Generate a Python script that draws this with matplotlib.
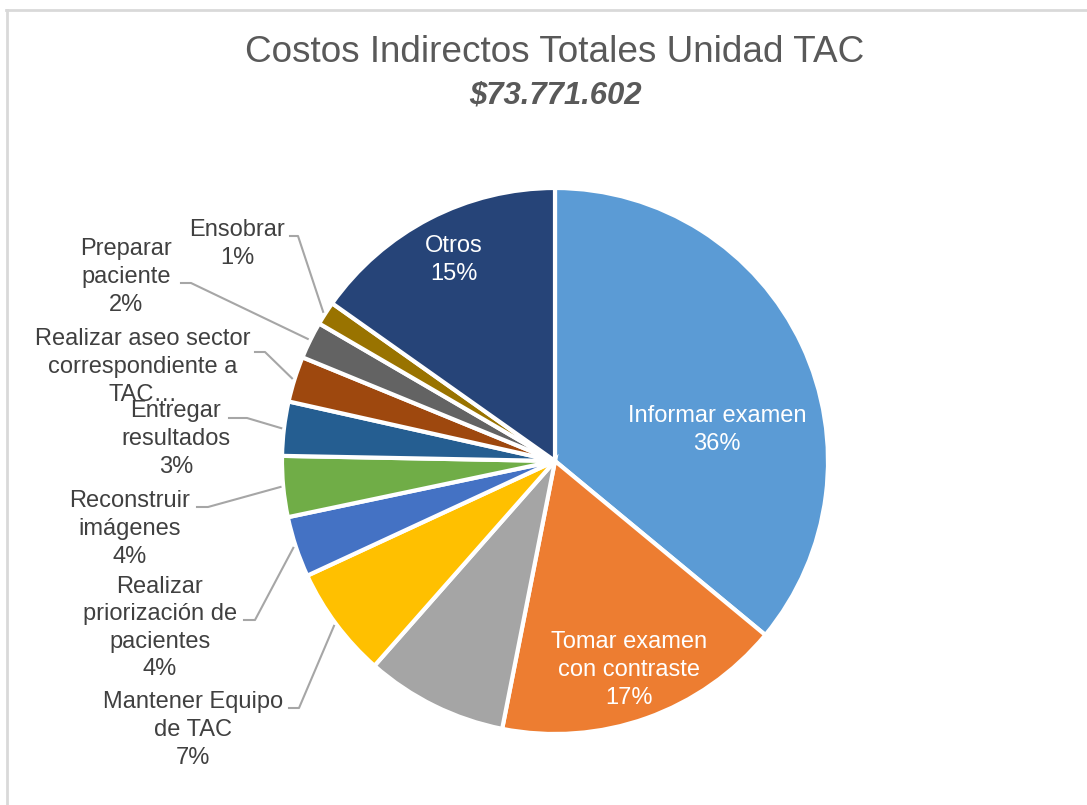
import numpy as np
import matplotlib.pyplot as plt
from matplotlib.lines import Line2D

plt.rcParams['font.family'] = ['Liberation Sans', 'DejaVu Sans']

# datos (% del costo indirecto total)
categorias = ['Informar examen', 'Tomar examen con contraste', 'Sin etiqueta',
              'Mantener Equipo de TAC', 'Realizar priorización de pacientes',
              'Reconstruir imágenes', 'Entregar resultados',
              'Realizar aseo sector correspondiente a TAC…',
              'Preparar paciente', 'Ensobrar', 'Otros']
valores = [36.0, 17.1, 8.4, 6.6, 3.6, 3.6, 3.2, 2.7, 2.2, 1.4, 15.2]
etiquetas = ['Informar examen', 'Tomar examen\ncon contraste', None,
             'Mantener Equipo\nde TAC', 'Realizar\npriorización de\npacientes',
             'Reconstruir\nimágenes', 'Entregar\nresultados',
             'Realizar aseo sector\ncorrespondiente a\nTAC…',
             'Preparar\npaciente', 'Ensobrar', 'Otros']
mostrar_pct = [True, True, False, True, True, True, True, False, True, True, True]
colores = ['#5B9BD5', '#ED7D31', '#A5A5A5', '#FFC000', '#4472C4', '#70AD47',
           '#255E91', '#9E480E', '#636363', '#997300', '#264478']
total_txt = '$73.771.602'

W, H = 1087, 805
CX, CY, R = 555, 461, 273

fig = plt.figure(figsize=(W / 100, H / 100), dpi=100)
ax = fig.add_axes([(CX - R) / W, 1 - (CY + R) / H, 2 * R / W, 2 * R / H])
wedges, _ = ax.pie(valores, colors=colores, startangle=90, counterclock=False,
                   wedgeprops=dict(edgecolor='white', linewidth=3))
ax.set_xlim(-1, 1)
ax.set_ylim(-1, 1)
ax.set_aspect('equal')
ax.axis('off')


def px(x, y):
    # pixel -> coordenadas de datos del pie
    return (x - CX) / R, (CY - y) / R


total = sum(valores)
# posiciones de etiquetas: (centro texto, inicio linea, codo linea) en pixeles
dentro = {0: (717, 430), 1: (629, 670), 10: (454, 260)}
fuera = {9: ((237, 244), (290, 236), (298, 236)),
         8: ((126, 277), (181, 283), (191, 283)),
         7: ((143, 367), (255, 352), (265, 352)),
         6: ((176, 439), (229, 418), (247, 418)),
         5: ((130, 529), (197, 507), (208, 507)),
         4: ((160, 628), (244, 620), (255, 620)),
         3: ((193, 730), (289, 708), (299, 708))}

for i, w in enumerate(wedges):
    if etiquetas[i] is None:
        continue
    txt = etiquetas[i]
    if mostrar_pct[i]:
        txt += '\n%.0f%%' % (valores[i] / total * 100)
    if i in dentro:
        x, y = px(*dentro[i])
        ax.text(x, y, txt, ha='center', va='center', fontsize=17,
                color='white', linespacing=1.33)
    else:
        c, s, e = fuera[i]
        x, y = px(*c)
        ax.text(x, y, txt, ha='center', va='center', fontsize=17,
                color='#404040', linespacing=1.33)
        ang = np.deg2rad((w.theta1 + w.theta2) / 2)
        p0, p1 = px(*s), px(*e)
        ax.plot([p0[0], p1[0], 1.01 * np.cos(ang)],
                [p0[1], p1[1], 1.01 * np.sin(ang)],
                color='#A6A6A6', lw=1.5, clip_on=False)

fig.text(555 / W, 1 - 52 / H, 'Costos Indirectos Totales Unidad TAC',
         ha='center', va='center', fontsize=26.6, color='#595959')
fig.text(555 / W, 1 - 95 / H, total_txt, ha='center', va='center',
         fontsize=22.4, color='#595959', fontweight='bold', fontstyle='italic')

# borde del area del grafico
fig.add_artist(Line2D([6 / W, 1], [1 - 10 / H, 1 - 10 / H], color='#D9D9D9', lw=2))
fig.add_artist(Line2D([7 / W, 7 / W], [0, 1 - 10 / H], color='#D9D9D9', lw=2))

fig.savefig('out.png', dpi=100, facecolor='white')
